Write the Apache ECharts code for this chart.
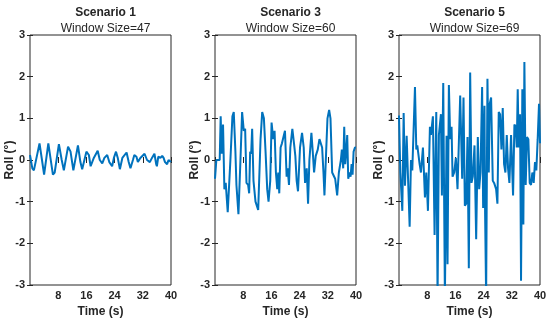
<!DOCTYPE html>
<html>
<head>
<meta charset="utf-8">
<script src="https://cdn.jsdelivr.net/npm/echarts@6/dist/echarts.min.js"></script>
<style>html,body{margin:0;padding:0;background:#fff;}#c{width:550px;height:323px;}</style>
</head>
<body>
<div id="c"></div>
<script>
const titles = ['Scenario 1', 'Scenario 3', 'Scenario 5'];
const subtitles = ['Window Size=47', 'Window Size=60', 'Window Size=69'];
const xTicks = [0, 8, 16, 24, 32, 40];
const yTicks = [-3, -2, -1, 0, 1, 2, 3];

const t1 = [0,0.66,1.1,1.6,2.7,3.4,4.0,5.2,5.8,6.5,7.0,8.2,9.0,9.6,10.8,11.5,12.3,13.6,14.3,14.8,16.0,16.7,17.2,18.1,19.2,19.8,20.5,21.1,21.9,22.5,23.3,23.8,24.4,24.9,25.5,26.2,27.4,28.0,28.5,29.2,29.6,30.2,30.6,31.3,32.5,33.2,34.0,34.6,35.3,35.8,36.0,36.4,37.0,37.5,37.9,38.3,38.9,39.3,40.0];
const roll1 = [0.12,-0.2,-0.25,-0.22,0.4,0.0,-0.35,0.4,0.05,-0.35,-0.3,0.38,0.0,-0.25,0.32,0.2,-0.25,0.35,-0.05,-0.22,0.2,0.12,-0.15,0.05,0.22,0.0,-0.08,0.05,0.12,-0.05,-0.15,0.05,0.2,0.05,-0.22,0.05,0.18,-0.05,-0.2,0.0,0.12,0.08,-0.05,0.05,0.15,0.0,-0.05,0.05,0.15,-0.1,-0.15,0.08,0.05,0.1,0.05,-0.05,-0.1,0.0,-0.05];

const t3 = [0,0.38,1.33,1.61,1.9,2.28,2.66,3.04,3.61,4.37,4.94,5.32,5.79,6.08,6.65,7.22,7.69,8.17,8.55,8.93,9.4,9.69,9.97,10.26,10.54,10.92,11.49,12.25,12.92,13.39,13.87,14.34,14.81,15.19,15.67,16.05,16.52,16.9,17.28,17.66,17.95,18.23,18.61,18.99,19.37,19.85,20.32,20.61,20.99,21.37,21.94,22.41,22.79,23.17,23.55,24.12,24.69,25.17,25.55,26.02,26.4,26.78,27.35,27.73,28.11,28.58,29.15,29.63,30.01,30.39,30.77,31.05,31.53,31.91,32.38,32.76,33.24,33.62,34.09,34.66,35.14,35.71,35.99,36.37,36.66,36.94,37.23,37.51,37.8,38.18,38.46,38.75,39.03,39.32,39.7,40.0];
const roll3 = [-0.45,0,0,1.05,0.15,0.85,-0.7,-0.55,-1.25,0,1.05,1.15,0.2,-0.6,-1.3,0,1.15,0.7,0.75,-0.55,-0.6,-0.8,0.2,0.15,0.75,-0.5,-1.0,-1.2,0.5,1.15,1.0,0.2,-0.7,-1.0,-0.5,0.9,0.5,0.7,-0.3,-0.7,-0.3,-0.8,0.3,0.4,0.4,0.7,-0.4,-0.2,-0.6,0.3,0.75,0.4,0.1,-0.5,-0.75,0.3,0.65,0.3,-0.55,-0.2,-1.05,0,0.65,0.2,-0.3,0.1,0.25,0.5,0.5,0.3,-0.3,-0.85,0.2,1.0,1.2,1.0,-0.3,-0.3,-0.45,-0.85,-0.3,0.0,0.25,-0.2,0.8,-0.1,0.2,0.6,-0.45,-0.3,-0.4,-0.1,-0.35,0.2,0.3,0.3];

const t5 = [0,0.38,0.94,1.32,1.7,2.17,2.55,3.02,3.4,3.77,4.53,4.91,5.19,5.47,5.85,6.23,6.79,7.36,7.74,8.21,8.77,9.06,9.62,10.09,10.57,10.94,11.32,11.89,12.17,12.55,13.02,13.49,13.77,14.15,14.53,14.91,15.19,15.66,16.13,16.6,17.36,17.92,18.3,18.68,19.06,19.43,19.81,20.19,20.57,20.94,21.42,21.89,22.36,22.74,23.11,23.58,23.87,24.25,24.43,24.72,25.09,25.47,25.75,26.13,26.6,26.98,27.55,27.92,28.3,28.68,29.06,29.43,29.81,30.19,30.57,30.94,31.32,31.79,32.36,32.74,33.11,33.4,33.68,33.96,34.34,34.62,34.99,35.28,35.57,35.94,36.32,36.7,37.08,37.45,37.83,38.21,38.58,38.96,39.34,39.72,40.0];
const roll5 = [1.07,-0.3,-1.22,1.13,-0.62,0.58,-0.4,-1.6,0.0,-0.25,1.75,0.25,0.35,0.35,-0.1,-0.3,0.3,-0.9,-0.3,-1.22,0.8,0.6,1.05,-1.8,1.15,-3.3,0.6,1.1,-0.85,1.85,-3.3,0.58,-2.5,1.8,0.5,0.8,-0.4,-0.3,0.05,-0.7,1.55,-0.45,1.5,-1.1,-1.05,0.55,-2.6,2.1,-0.55,-0.4,0.35,-1.9,0.55,-0.7,-0.3,1.75,-1.15,1.3,-1.3,-3.3,1.95,-0.3,1.35,1.5,-0.5,-0.55,-0.7,-1.05,1.15,1.1,0.25,1.25,-0.1,-0.3,0.6,-0.2,-0.55,0.6,-0.85,0.85,0.8,0.3,1.7,0.3,1.1,-2.9,1.7,-1.55,2.35,-0.6,0.55,0.5,-0.55,-0.6,-0.3,-0.55,-0.05,-0.25,0.5,1.35,0.4];

const times = [t1, t3, t5];
const rolls = [roll1, roll3, roll5];

const gridLefts = [30, 215, 399];
const gridW = 141;
const textColor = '#262626';
const font = 'Liberation Sans, Arial, sans-serif';

const grids = [], xAxes = [], yAxes = [], series = [], titleArr = [];
for (let i = 0; i < 3; i++) {
  grids.push({left: gridLefts[i], width: gridW, top: 35, bottom: 37, show: true, borderColor: textColor, borderWidth: 1, backgroundColor: '#fff'});
  const xBase = {gridIndex: i, type: 'value', min: xTicks[0], max: xTicks[xTicks.length-1], interval: 8,
    axisLine: {show: false}, splitLine: {show: false},
    axisTick: {show: true, inside: true, length: 3, lineStyle: {color: textColor}}};
  xAxes.push(Object.assign({}, xBase, {position: 'bottom', name: 'Time (s)', nameLocation: 'middle', nameGap: 21,
    nameTextStyle: {color: textColor, fontWeight: 'bold', fontSize: 12, fontFamily: font},
    axisLabel: {color: textColor, fontWeight: 'bold', fontSize: 11, fontFamily: font, margin: 5,
      formatter: v => v === 0 ? '' : String(v)}}));
  xAxes.push(Object.assign({}, xBase, {position: 'top', axisLabel: {show: false}}));
  const yBase = {gridIndex: i, type: 'value', min: yTicks[0], max: yTicks[yTicks.length-1], interval: 1,
    axisLine: {show: false}, splitLine: {show: false},
    axisTick: {show: true, inside: true, length: 3, lineStyle: {color: textColor}}};
  yAxes.push(Object.assign({}, yBase, {position: 'left', name: 'Roll (°)', nameLocation: 'middle', nameGap: 14, nameMoveOverlap: false,
    nameTextStyle: {color: textColor, fontWeight: 'bold', fontSize: 12, fontFamily: font},
    axisLabel: {color: textColor, fontWeight: 'bold', fontSize: 11, fontFamily: font, margin: 5}}));
  yAxes.push(Object.assign({}, yBase, {position: 'right', axisLabel: {show: false}}));
  series.push({type: 'line', xAxisIndex: 2*i, yAxisIndex: 2*i, showSymbol: false, symbol: 'none', clip: true,
    lineStyle: {color: '#0072BD', width: 2}, data: times[i].map((t, k) => [t, rolls[i][k]])});
  titleArr.push({text: titles[i], subtext: subtitles[i], left: gridLefts[i] + gridW/2, top: 2, textAlign: 'center', itemGap: 4,
    textStyle: {color: textColor, fontWeight: 'bold', fontSize: 12, fontFamily: font},
    subtextStyle: {color: textColor, fontWeight: 'normal', fontSize: 12, fontFamily: font}});
}

const chart = echarts.init(document.getElementById('c'), null, {renderer: 'canvas'});
chart.setOption({animation: false, backgroundColor: '#fff', title: titleArr, grid: grids, xAxis: xAxes, yAxis: yAxes, series: series});
</script>
</body>
</html>
